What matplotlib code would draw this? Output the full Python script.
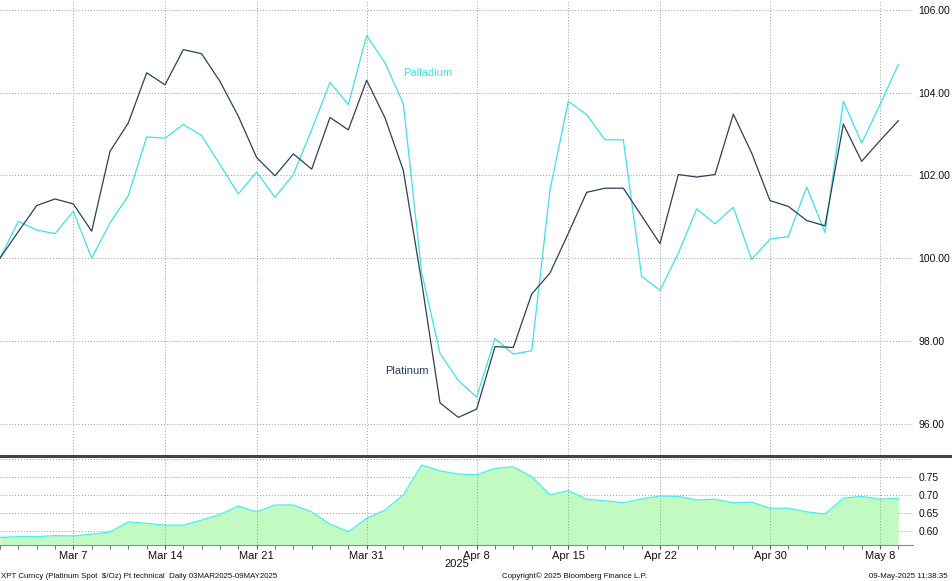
import matplotlib
matplotlib.use("Agg")
import matplotlib.pyplot as plt
from matplotlib.lines import Line2D
import matplotlib.transforms as mtransforms
import pandas as pd

plt.rcParams['font.family'] = ['Liberation Sans', 'DejaVu Sans']

# ---- data ----
dates = pd.bdate_range("2025-03-03", "2025-05-09")
platinum = [100.00, 100.64, 101.27, 101.43, 101.31, 100.65, 102.58, 103.27, 104.48, 104.19,
            105.04, 104.94, 104.27, 103.43, 102.43, 101.99, 102.52, 102.15, 103.40, 103.10,
            104.30, 103.39, 102.12, 99.42, 96.50, 96.15, 96.35, 97.86, 97.84, 99.13,
            99.64, 100.60, 101.59, 101.69, 101.69, 101.02, 100.35, 102.02, 101.96, 102.02,
            103.48, 102.54, 101.39, 101.25, 100.91, 100.78, 103.24, 102.34, 102.84, 103.32]
palladium = [100.00, 100.89, 100.68, 100.59, 101.13, 100.00, 100.85, 101.51, 102.93, 102.90,
             103.23, 102.96, 102.26, 101.55, 102.08, 101.47, 102.02, 103.10, 104.25, 103.71,
             105.38, 104.72, 103.73, 99.65, 97.70, 97.04, 96.64, 98.06, 97.68, 97.76,
             101.65, 103.79, 103.47, 102.86, 102.86, 99.56, 99.22, 100.12, 101.19, 100.83,
             101.23, 99.97, 100.46, 100.52, 101.72, 100.62, 103.79, 102.78, 103.71, 104.68]
technical = [0.583, 0.585, 0.585, 0.588, 0.587, 0.592, 0.598, 0.626, 0.622, 0.617,
             0.617, 0.631, 0.647, 0.670, 0.654, 0.673, 0.673, 0.654, 0.620, 0.599,
             0.636, 0.659, 0.701, 0.784, 0.768, 0.759, 0.757, 0.775, 0.779, 0.752,
             0.701, 0.713, 0.689, 0.685, 0.679, 0.690, 0.698, 0.697, 0.687, 0.689,
             0.679, 0.681, 0.664, 0.664, 0.654, 0.648, 0.692, 0.697, 0.689, 0.692]
tick_dates = ["2025-03-07", "2025-03-14", "2025-03-21", "2025-03-31", "2025-04-08",
              "2025-04-15", "2025-04-22", "2025-04-30", "2025-05-08"]
tick_labels = ["Mar 7", "Mar 14", "Mar 21", "Mar 31", "Apr 8", "Apr 15", "Apr 22", "Apr 30", "May 8"]
top_yticks = [96, 98, 100, 102, 104, 106]
bot_yticks = [0.60, 0.65, 0.70, 0.75]
bot_grid = [0.60, 0.65, 0.70, 0.75, 0.80]

x = list(range(len(dates)))
date_idx = {d.strftime("%Y-%m-%d"): i for i, d in enumerate(dates)}
tick_pos = [date_idx[d] for d in tick_dates]

PT_COL = '#2e3f56'
PD_COL = '#3fe0e6'
GRID_COL = '#9a9a9a'
W, H = 952, 581

fig = plt.figure(figsize=(W / 100, H / 100), dpi=100)
ax = fig.add_axes([0, 1 - 455 / H, 913 / W, 455 / H])
ax2 = fig.add_axes([0, 1 - 545 / H, 913 / W, 87 / H], sharex=ax)

# ---- top panel ----
ax.plot(x, palladium, color=PD_COL, lw=0.9, zorder=3)
ax.plot(x, platinum, color=PT_COL, lw=0.9, zorder=4)
ax.set_xlim(0, 49.8)
ax.set_ylim(95.24, 106.24)
for s in ax.spines.values():
    s.set_visible(False)
ax.yaxis.tick_right()
ax.set_yticks(top_yticks)
ax.set_yticklabels([f"{v:.2f}" for v in top_yticks])
ax.tick_params(axis='y', length=0, pad=4, labelsize=7.5, labelcolor='#111111')
ax.tick_params(axis='x', which='both', length=0, labelbottom=False)
for v in top_yticks:
    ax.axhline(v, color=GRID_COL, lw=0.7, ls=(0, (1, 2)), zorder=1)
for p in tick_pos:
    ax.axvline(p, color=GRID_COL, lw=0.7, ls=(0, (1, 2)), zorder=1)
ax.text(22, 104.48, "Palladium", color=PD_COL, fontsize=8, ha='left', va='center')
ax.text(21, 97.27, "Platinum", color=PT_COL, fontsize=8, ha='left', va='center')

# ---- bottom panel ----
ax2.fill_between(x, technical, 0, color='#c2fbc2', lw=0, zorder=2)
ax2.plot(x, technical, color='#45eef0', lw=0.9, zorder=3)
ax2.set_ylim(0.5619, 0.8036)
for k, s in ax2.spines.items():
    s.set_visible(k == 'bottom')
ax2.spines['bottom'].set_color('#8a8a8a')
ax2.spines['bottom'].set_linewidth(0.8)
ax2.yaxis.tick_right()
ax2.set_yticks(bot_yticks)
ax2.set_yticklabels([f"{v:.2f}" for v in bot_yticks])
ax2.tick_params(axis='y', length=0, pad=4, labelsize=7.5, labelcolor='#111111')
ax2.set_xticks(tick_pos)
ax2.set_xticklabels(tick_labels)
ax2.set_xticks(x, minor=True)
ax2.tick_params(axis='x', which='major', length=3, color='#555555', pad=1, labelsize=8, labelcolor='#111111')
ax2.tick_params(axis='x', which='minor', length=3, color='#555555')
for v in bot_grid:
    ax2.axhline(v, color=GRID_COL, lw=0.7, ls=(0, (1, 2)), zorder=1)
for p in tick_pos:
    ax2.axvline(p, color=GRID_COL, lw=0.7, ls=(0, (1, 2)), zorder=4)
ax2.set_xlim(0, 49.8)
trans = mtransforms.blended_transform_factory(ax2.transData, fig.transFigure)
ax2.text(date_idx["2025-04-08"] - 1.1, 1 - 564 / H, "2025", transform=trans, fontsize=8,
         ha='center', va='center', color='#111111')

# separator
fig.add_artist(Line2D([0, 1], [1 - 456 / H, 1 - 456 / H], color='#444444', lw=2.2,
                      transform=fig.transFigure))

# footer
fig.text(1 / W, 1 - 576 / H, "XPT Curncy (Platinum Spot  $/Oz) Pt technical  Daily 03MAR2025-09MAY2025",
         fontsize=5.7, ha='left', va='center', color='#111111')
fig.text(502 / W, 1 - 576 / H, "Copyright\u00a9 2025 Bloomberg Finance L.P.",
         fontsize=5.7, ha='left', va='center', color='#111111')
fig.text(948 / W, 1 - 576 / H, "09-May-2025 11:38:35",
         fontsize=5.7, ha='right', va='center', color='#111111')

fig.savefig("out.png", dpi=100)
